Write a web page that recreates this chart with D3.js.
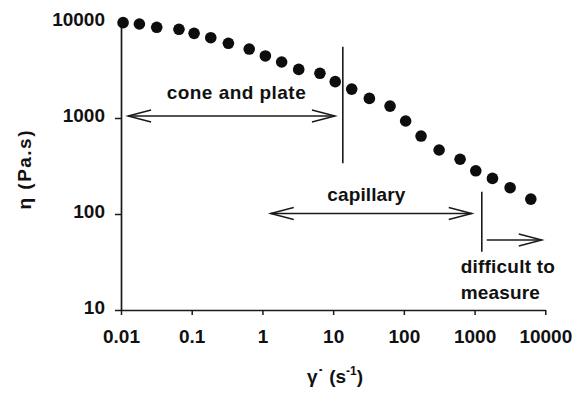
<!DOCTYPE html>
<html>
<head>
<meta charset="utf-8">
<script src="https://cdn.jsdelivr.net/npm/d3@7"></script>
<style>
  body { margin: 0; background: #fff; }
  svg text { font-family: "Liberation Sans", Arial, Helvetica, sans-serif; font-weight: bold; fill: #111; }
</style>
</head>
<body>
<svg id="chart" width="577" height="395"></svg>
<script>
// Shear rate (s^-1) and viscosity (Pa.s) of the flow curve
const shearRate = [0.0107, 0.0182, 0.032, 0.066, 0.108, 0.186, 0.33, 0.65, 1.10, 1.87, 3.26, 6.5,
                   10.7, 18.3, 32.5, 63.8, 106, 175, 315, 624, 1040, 1790, 3180, 6240];
const viscosity = [9840, 9530, 8810, 8390, 7620, 6860, 6000, 5230, 4430, 3830, 3210, 2920,
                   2390, 2000, 1600, 1330, 931, 649, 464, 372, 282, 235, 188, 143];

const xTicks = [0.01, 0.1, 1, 10, 100, 1000, 10000];
const xTickLabels = ["0.01", "0.1", "1", "10", "100", "1000", "10000"];
const yTicks = [10, 100, 1000, 10000];
const yTickLabels = ["10", "100", "1000", "10000"];

// Measurement ranges of each technique (data units)
const rangeArrows = [
  { x1: 0.0126, x2: 10.6, y: 1050, twoWay: true },
  { x1: 1.31, x2: 912, y: 101, twoWay: true },
  { x1: 1489, x2: 8920, y: 53.6, twoWay: false }
];
const rangeLimits = [
  { x: 13.7, y1: 5530, y2: 337 },
  { x: 1265, y1: 171, y2: 40.5 }
];
const rangeLabels = [
  { text: "cone and plate", x: 0.0443, y: 1580, len: 139 },
  { text: "capillary", x: 8.28, y: 138, len: 78 },
  { text: "difficult to", x: 638, y: 24.5, len: 94 },
  { text: "measure", x: 638, y: 12.9, len: 79 }
];

const svg = d3.select("#chart");
const ink = "#1a1a1a";

const x = d3.scaleLog().domain([0.01, 10000]).range([121, 545.3]);
const y = d3.scaleLog().domain([10, 10000]).range([310, 22]);

// X axis
const gx = svg.append("g").attr("transform", `translate(0,${y(10)})`)
  .call(d3.axisBottom(x).tickValues(xTicks).tickFormat((d, i) => xTickLabels[i])
    .tickSize(5).tickSizeOuter(0));
gx.select(".domain").attr("stroke", ink).attr("stroke-width", 1.7);
gx.selectAll(".tick line").attr("stroke", ink).attr("stroke-width", 1.5);
gx.selectAll(".tick text").attr("y", 33).attr("dy", 0)
  .style("font-size", "19px").attr("fill", "#111");

// Y axis
const gy = svg.append("g").attr("transform", `translate(${x(0.01)},0)`)
  .call(d3.axisLeft(y).tickValues(yTicks).tickFormat((d, i) => yTickLabels[i])
    .tickSize(6).tickSizeOuter(0));
gy.select(".domain").attr("stroke", ink).attr("stroke-width", 1.7);
gy.selectAll(".tick line").attr("stroke", ink).attr("stroke-width", 1.5);
gy.selectAll(".tick").filter(d => d === 10000).select("line").remove();
gy.selectAll(".tick text").attr("x", -16).attr("dy", 0).attr("y", 3)
  .style("font-size", "19px").attr("fill", "#111");

// Axis titles
svg.append("text")
  .attr("transform", `translate(31,${170}) rotate(-90)`)
  .attr("text-anchor", "middle")
  .style("font-size", "19px")
  .attr("textLength", 79)
  .text("η (Pa.s)");

// Shear-rate symbol: gamma with a dot, then the unit with a superscript
const xt = svg.append("text").attr("x", 307).attr("y", 383).style("font-size", "19px");
xt.append("tspan").text("γ˙ (s");
xt.append("tspan").attr("dy", -8).style("font-size", "12px").text("-1");
xt.append("tspan").attr("dy", 8).text(")");

// Range boundaries
svg.append("g").selectAll("line").data(rangeLimits).join("line")
  .attr("x1", d => x(d.x)).attr("x2", d => x(d.x))
  .attr("y1", d => y(d.y1)).attr("y2", d => y(d.y2))
  .attr("stroke", ink).attr("stroke-width", 1.6);

// Range arrows with open heads
const headLen = 23, headHalf = 6;
const ag = svg.append("g").attr("fill", "none").attr("stroke", ink).attr("stroke-width", 1.5);
rangeArrows.forEach(a => {
  const xa = x(a.x1), xb = x(a.x2), ya = y(a.y);
  ag.append("line").attr("x1", xa).attr("x2", xb).attr("y1", ya).attr("y2", ya);
  ag.append("path").attr("d", `M${xb - headLen},${ya - headHalf}L${xb},${ya}L${xb - headLen},${ya + headHalf}`);
  if (a.twoWay)
    ag.append("path").attr("d", `M${xa + headLen},${ya - headHalf}L${xa},${ya}L${xa + headLen},${ya + headHalf}`);
});

// Range labels
svg.append("g").selectAll("text").data(rangeLabels).join("text")
  .attr("x", d => x(d.x)).attr("y", d => y(d.y))
  .attr("textLength", d => d.len).attr("lengthAdjust", "spacing")
  .style("font-size", "19px")
  .text(d => d.text);

// Data points
svg.append("g").selectAll("circle").data(shearRate).join("circle")
  .attr("cx", d => x(d)).attr("cy", (d, i) => y(viscosity[i]))
  .attr("r", 5.8).attr("fill", "#0d0d0d");
</script>
</body>
</html>
